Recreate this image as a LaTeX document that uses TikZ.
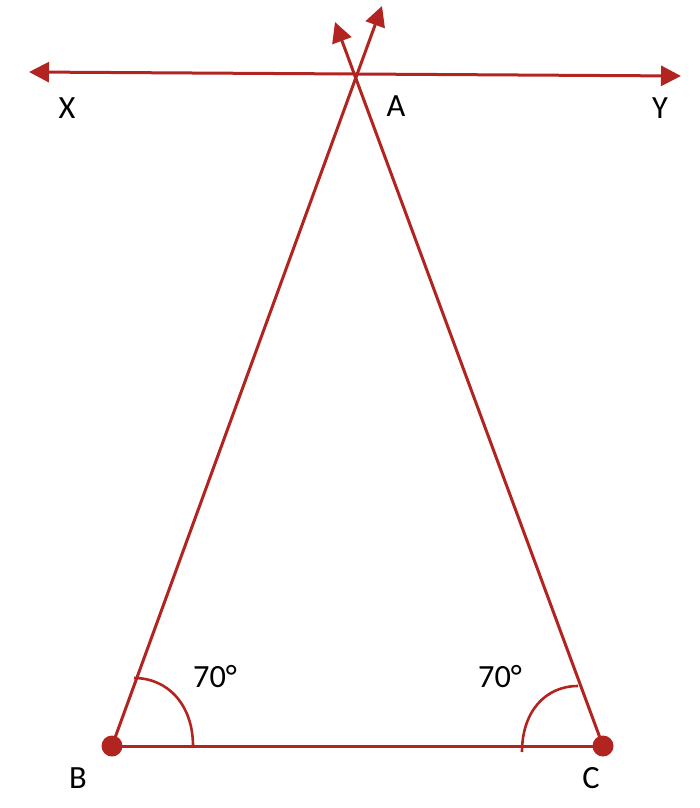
\documentclass[tikz,border=0pt]{standalone}
\usepackage{fontspec}
\setmainfont{Carlito}
\usetikzlibrary{arrows.meta}
\definecolor{lred}{RGB}{178,36,32}
\begin{document}
\begin{tikzpicture}[x=0.5pt,y=-0.5pt,
  ln/.style={draw=lred,line width=1.5pt},
  tip/.style={-{Triangle[length=10pt,width=10pt]}},
  anglearc/.style={draw=lred,line width=1.3pt},
  dot/.style={circle,fill=lred,inner sep=0pt,minimum size=10.5pt},
  lbl/.style={font=\fontsize{16.2}{19}\selectfont,text=black,inner sep=0pt}]
\useasboundingbox (0,0) rectangle (700,808);
\coordinate (B) at (112,746);
\coordinate (C) at (603,746);
\coordinate (A) at (356,76);
\coordinate (TB) at (382,6);
\coordinate (TC) at (335,22);
\coordinate (Xt) at (29,72);
\coordinate (Yt) at (681,76);
\coordinate (aB1) at (193,746);
\coordinate (aB2) at (134,678);
\coordinate (aC1) at (522,752);
\coordinate (aC2) at (578,686);
% lines
\draw[ln,{Triangle[length=10pt,width=10pt]}-{Triangle[length=10pt,width=10pt]}] (Xt) -- (Yt);
\draw[ln,tip] (B) -- (TB);
\draw[ln,tip] (C) -- (TC);
\draw[ln] (B) -- (C);
% angle arcs
\draw[anglearc] (aB1) .. controls (193,705) and (168,678) .. (aB2);
\draw[anglearc] (aC1) .. controls (522,712) and (545,686) .. (aC2);
% dots
\node[dot] (Bd) at (B) {};
\node[dot] (Cd) at (C) {};
% labels
\node[lbl] (lX) at (67,108) {X};
\node[lbl] (lA) at (396,106) {A};
\node[lbl] (lY) at (660,108) {Y};
\node[lbl] (lB) at (78,778) {B};
\node[lbl] (lC) at (591,778) {C};
\node[lbl] (angB) at (215,677) {70°};
\node[lbl] (angC) at (500,677) {70°};
\end{tikzpicture}
\end{document}
